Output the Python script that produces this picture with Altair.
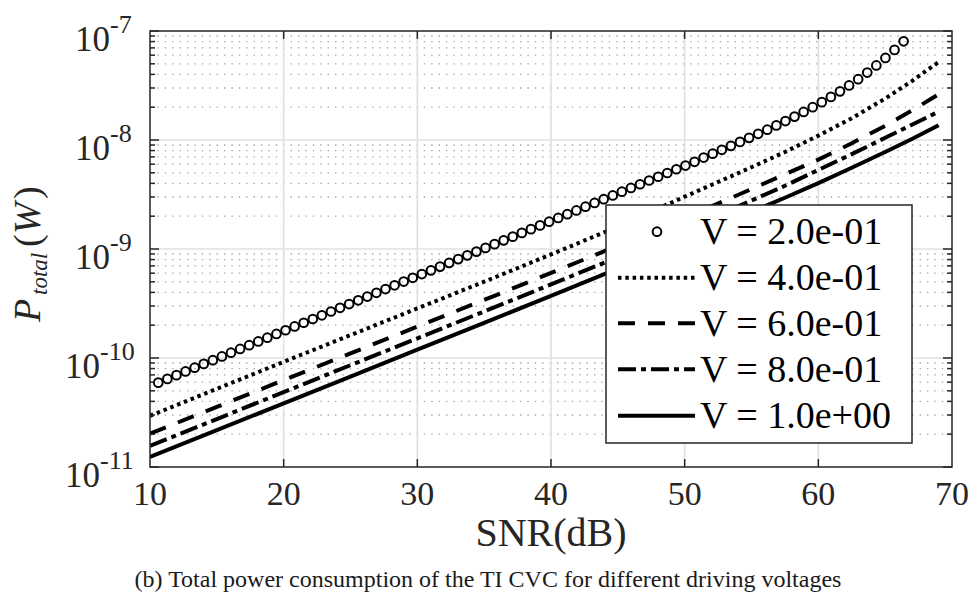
import altair as alt
import pandas as pd

# ---------------- data ----------------
snr_circle = [10.62, 11.30, 11.98, 12.66, 13.34, 14.02, 14.70, 15.38, 16.06, 16.74,
              17.42, 18.10, 18.78, 19.46, 20.14, 20.82, 21.50, 22.18, 22.86, 23.54,
              24.22, 24.90, 25.58, 26.26, 26.94, 27.62, 28.30, 28.98, 29.66, 30.34,
              31.02, 31.70, 32.38, 33.06, 33.74, 34.42, 35.10, 35.78, 36.46, 37.14,
              37.82, 38.50, 39.18, 39.86, 40.54, 41.22, 41.90, 42.58, 43.26, 43.94,
              44.62, 45.30, 45.98, 46.66, 47.34, 48.02, 48.70, 49.38, 50.06, 50.74,
              51.42, 52.10, 52.78, 53.46, 54.14, 54.82, 55.50, 56.18, 56.86, 57.54,
              58.22, 58.90, 59.58, 60.26, 60.94, 61.62, 62.30, 62.98, 63.66, 64.34,
              65.02, 65.70, 66.38]
p_v02 = [5.94e-11, 6.43e-11, 6.96e-11, 7.53e-11, 8.15e-11, 8.83e-11, 9.55e-11, 1.034e-10, 1.119e-10, 1.211e-10,
         1.310e-10, 1.418e-10, 1.535e-10, 1.661e-10, 1.797e-10, 1.946e-10, 2.106e-10, 2.279e-10, 2.466e-10, 2.670e-10,
         2.889e-10, 3.127e-10, 3.384e-10, 3.663e-10, 3.964e-10, 4.290e-10, 4.643e-10, 5.026e-10, 5.439e-10, 5.887e-10,
         6.371e-10, 6.895e-10, 7.463e-10, 8.077e-10, 8.742e-10, 9.462e-10, 1.024e-9, 1.108e-9, 1.200e-9, 1.298e-9,
         1.405e-9, 1.521e-9, 1.646e-9, 1.781e-9, 1.928e-9, 2.087e-9, 2.258e-9, 2.444e-9, 2.645e-9, 2.863e-9,
         3.098e-9, 3.353e-9, 3.629e-9, 3.928e-9, 4.251e-9, 4.601e-9, 4.979e-9, 5.389e-9, 5.833e-9, 6.313e-9,
         6.905e-9, 7.492e-9, 8.134e-9, 8.837e-9, 9.609e-9, 1.046e-8, 1.140e-8, 1.244e-8, 1.361e-8, 1.492e-8,
         1.639e-8, 1.808e-8, 2.000e-8, 2.224e-8, 2.485e-8, 2.794e-8, 3.164e-8, 3.610e-8, 4.156e-8, 4.828e-8,
         5.661e-8, 6.708e-8, 8.039e-8]

snr_line = [10, 15, 20, 25, 30, 35, 40, 45, 50, 55, 57.5, 60, 62.5, 65, 67, 69]
p_v04 = [2.951e-11, 5.212e-11, 9.226e-11, 1.622e-10, 2.851e-10, 5.012e-10, 8.913e-10, 1.603e-9,
         3.020e-9, 5.623e-9, 7.762e-9, 1.096e-8, 1.585e-8, 2.399e-8, 3.467e-8, 5.188e-8]
p_v06 = [2.023e-11, 3.556e-11, 6.266e-11, 1.102e-10, 1.941e-10, 3.412e-10, 6.026e-10, 1.072e-9,
         1.928e-9, 3.548e-9, 4.842e-9, 6.607e-9, 9.333e-9, 1.349e-8, 1.862e-8, 2.630e-8]
p_v08 = [1.560e-11, 2.754e-11, 4.864e-11, 8.590e-11, 1.514e-10, 2.673e-10, 4.732e-10, 8.414e-10,
         1.514e-9, 2.786e-9, 3.802e-9, 5.309e-9, 7.413e-9, 1.047e-8, 1.380e-8, 1.820e-8]
p_v10 = [1.236e-11, 2.178e-11, 3.837e-11, 6.761e-11, 1.191e-10, 2.099e-10, 3.715e-10, 6.607e-10,
         1.189e-9, 2.188e-9, 2.951e-9, 4.027e-9, 5.559e-9, 7.762e-9, 1.023e-8, 1.365e-8]

legend_labels = ["V = 2.0e-01", "V = 4.0e-01", "V = 6.0e-01", "V = 8.0e-01", "V = 1.0e+00"]
x_ticks = [10, 20, 30, 40, 50, 60, 70]
y_major = [1e-11, 1e-10, 1e-9, 1e-8, 1e-7]
y_exp = ["-11", "-10", "-9", "-8", "-7"]
y_minor = [m * 10.0 ** e for e in range(-11, -7) for m in range(2, 10)]

x_title = "SNR(dB)"
caption = "(b) Total power consumption of the TI CVC for different driving voltages"

# ---------------- layout ----------------
W, H = 802, 436
FONT = "Liberation Serif"
AX = "#262626"

xs = alt.Scale(domain=[10, 70], nice=False, zero=False)
ys = alt.Scale(type="log", domain=[1e-11, 1e-7], nice=False)

one = pd.DataFrame({"a": [0]})
df_minor = pd.DataFrame({"v": y_minor})
df_ymaj = pd.DataFrame({"v": y_major, "e": y_exp})
df_xt = pd.DataFrame({"t": x_ticks})
df_xin = pd.DataFrame({"t": x_ticks[1:-1]})
df_yin = pd.DataFrame({"v": y_major[1:-1]})

X = lambda f: alt.X(f, scale=xs, axis=None)
Y = lambda f: alt.Y(f, scale=ys, axis=None)

layers = []

# minor grid (dotted)
layers.append(alt.Chart(df_minor).mark_rule(color="#a8a8a8", strokeWidth=1.3, strokeDash=[1.4, 6.0])
              .encode(y=Y("v:Q"), x=alt.value(0), x2=alt.value(W)))
# major grid
layers.append(alt.Chart(df_xin).mark_rule(color="#e0e0e0", strokeWidth=1.6)
              .encode(x=X("t:Q"), y=alt.value(0), y2=alt.value(H)))
layers.append(alt.Chart(df_yin).mark_rule(color="#e0e0e0", strokeWidth=1.6)
              .encode(y=Y("v:Q"), x=alt.value(0), x2=alt.value(W)))

# data lines
def line(vals, dash):
    df = pd.DataFrame({"snr": snr_line, "p": vals})
    kw = dict(color="black", strokeWidth=4, strokeCap="butt", clip=True)
    if dash:
        kw["strokeDash"] = dash
    return alt.Chart(df).mark_line(**kw).encode(x=X("snr:Q"), y=Y("p:Q"), order="snr:Q")

DOT, DASH, DASHDOT = [3.5, 3.8], [17, 13], [18, 5, 5, 5]
layers.append(line(p_v04, DOT))
layers.append(line(p_v06, DASH))
layers.append(line(p_v08, DASHDOT))
layers.append(line(p_v10, None))

CIRC = dict(shape="circle", filled=False, size=76, strokeWidth=2, color="black", opacity=1)
df_c = pd.DataFrame({"snr": snr_circle, "p": p_v02})
layers.append(alt.Chart(df_c).mark_point(clip=True, **CIRC).encode(x=X("snr:Q"), y=Y("p:Q")))

# ticks (inside)
tk = dict(color=AX, strokeWidth=1.5)
layers.append(alt.Chart(df_xin).mark_rule(**tk).encode(x=X("t:Q"), y=alt.value(H), y2=alt.value(H - 8)))
layers.append(alt.Chart(df_xin).mark_rule(**tk).encode(x=X("t:Q"), y=alt.value(0), y2=alt.value(8)))
layers.append(alt.Chart(df_ymaj).mark_rule(**tk).encode(y=Y("v:Q"), x=alt.value(0), x2=alt.value(9)))
layers.append(alt.Chart(df_ymaj).mark_rule(**tk).encode(y=Y("v:Q"), x=alt.value(W), x2=alt.value(W - 9)))
layers.append(alt.Chart(df_minor).mark_rule(**tk).encode(y=Y("v:Q"), x=alt.value(0), x2=alt.value(5)))
layers.append(alt.Chart(df_minor).mark_rule(**tk).encode(y=Y("v:Q"), x=alt.value(W), x2=alt.value(W - 5)))

# frame
layers.append(alt.Chart(one).mark_rect(filled=False, stroke=AX, strokeWidth=1.5)
              .encode(x=alt.value(0), x2=alt.value(W), y=alt.value(0), y2=alt.value(H)))

# x tick labels
layers.append(alt.Chart(df_xt).mark_text(font=FONT, fontSize=34, color=AX, baseline="alphabetic", align="center")
              .encode(x=X("t:Q"), y=alt.value(H + 38), text="t:Q"))
# y tick labels: "10" + superscript exponent (block centred on the tick)
ylab = alt.Chart(df_ymaj).transform_calculate(bx="length(datum.e) > 2 ? -50 : -40")
layers.append(ylab.mark_text(font=FONT, fontSize=35, color=AX, baseline="middle", align="right", dy=9)
              .encode(x=alt.X("bx:Q", scale=None), y=Y("v:Q"), text=alt.value("10")))
layers.append(ylab.mark_text(font=FONT, fontSize=26, color=AX, baseline="middle", align="left", dy=-6)
              .encode(x=alt.X("bx:Q", scale=None), y=Y("v:Q"), text="e:N"))

# axis titles
layers.append(alt.Chart(one).mark_text(font=FONT, fontSize=40, color=AX, align="center", baseline="alphabetic")
              .encode(x=alt.value(W / 2), y=alt.value(515), text=alt.value(x_title)))
ytitle_parts = [("P", 38, "italic", -110, 291), ("total", 23, "italic", -103, 264),
                ("(", 38, "normal", -110, 216), ("W", 38, "italic", -110, 203), (")", 38, "normal", -110, 168)]
for txt, fs, style, px, py in ytitle_parts:
    layers.append(alt.Chart(one).mark_text(font=FONT, fontSize=fs, fontStyle=style, color=AX, angle=270,
                                           align="left", baseline="alphabetic")
                  .encode(x=alt.value(px), y=alt.value(py), text=alt.value(txt)))

# caption
layers.append(alt.Chart(one).mark_text(font=FONT, fontSize=24, color="#1a1a1a", align="center", baseline="alphabetic")
              .encode(x=alt.value(338), y=alt.value(556), text=alt.value(caption)))

# legend
LX0, LX1, LY0, LY1 = 456, 762, 174, 412
rows = [200.7, 246.7, 292.3, 338.3, 384.7]
layers.append(alt.Chart(one).mark_rect(fill="white", stroke=AX, strokeWidth=1.5)
              .encode(x=alt.value(LX0), x2=alt.value(LX1), y=alt.value(LY0), y2=alt.value(LY1)))
layers.append(alt.Chart(one).mark_point(**CIRC).encode(x=alt.value(507), y=alt.value(rows[0])))
for r, dash in zip(rows[1:], [DOT, DASH, DASHDOT, None]):
    kw = dict(color="black", strokeWidth=4, strokeCap="butt")
    if dash:
        kw["strokeDash"] = dash
    layers.append(alt.Chart(one).mark_rule(**kw)
                  .encode(x=alt.value(468), x2=alt.value(545), y=alt.value(r)))
for r, lab in zip(rows, legend_labels):
    layers.append(alt.Chart(one).mark_text(font=FONT, fontSize=38, color="black", align="left", baseline="alphabetic")
                  .encode(x=alt.value(550), y=alt.value(r + 12.5), text=alt.value(lab)))

chart = alt.layer(*layers).properties(
    width=W, height=H,
    autosize=alt.AutoSizeParams(type="none"),
    padding={"left": 150, "top": 31, "right": 24, "bottom": 136},
    background="white",
).configure_view(stroke=None)

chart.save("out.html", embed_options={"renderer": "svg", "actions": False})
